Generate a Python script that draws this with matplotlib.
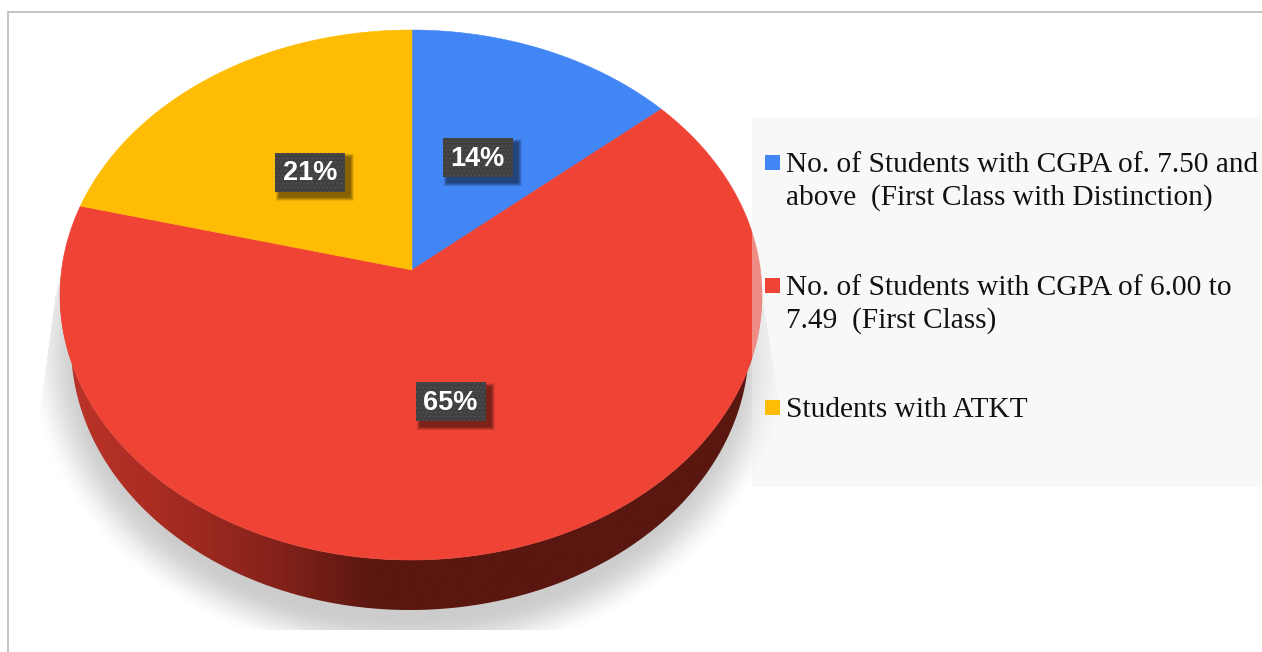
import numpy as np
import matplotlib
matplotlib.use("Agg")
import matplotlib.pyplot as plt
from matplotlib.patches import Rectangle, Polygon
from matplotlib.colors import LinearSegmentedColormap

# ---- data ----
categories = ["No. of Students with CGPA of. 7.50 and\nabove  (First Class with Distinction)",
              "No. of Students with CGPA of 6.00 to\n7.49  (First Class)",
              "Students with ATKT"]
values = [13.7, 65.3, 21.0]
labels = ["14%", "65%", "21%"]
colors = ["#4285F4", "#EF4435", "#FFBC05"]

W, H = 1262, 652
fig = plt.figure(figsize=(W / 100, H / 100), dpi=100)
ax = fig.add_axes([0, 0, 1, 1])
ax.set_xlim(0, W)
ax.set_ylim(H, 0)
ax.axis("off")

# geometry of the tilted pie (pixels)
APEX = np.array([412.0, 270.0])
CX, CY, RX, RY = 411.0, 295.0, 351.0, 265.0
DIRX, DIRY = 349.0, 262.0
TILT = 0.0926
BCX, BCY, BRX, BRY = 410.0, 345.0, 339.0, 265.0


def rim(theta):
    """Point on the top ellipse along the perspective ray for clockwise angle theta."""
    dx, dy = DIRX * np.sin(theta), -DIRY * np.cos(theta)
    ox, oy = (APEX[0] - CX) / RX, (APEX[1] - CY) / RY
    px, py = dx / RX, dy / RY
    a = px**2 + py**2
    b = 2 * (ox * px + oy * py)
    c = ox**2 + oy**2 - 1
    t = (-b + np.sqrt(b**2 - 4 * a * c)) / (2 * a)
    return APEX + t * np.array([dx, dy])


# ---- shadow ----
yy, xx = np.mgrid[0:H, 0:W]
d = np.sqrt(((xx - 408) / 385.0) ** 2 + ((yy - 350) / 315.0) ** 2)
sh = np.clip((1.0 - d) / 0.15, 0, 1)
sh = sh * sh * (3 - 2 * sh)
left = np.interp(yy, [205, 295, 460], [80, 55, 33])
right = np.interp(yy, [205, 400, 470], [748, 778, 782])
sh[(yy > 629) | (yy < 205) | (xx < left) | (xx > right)] = 0
rgba = np.zeros((H, W, 4))
rgba[..., 3] = sh * 0.2
ax.imshow(rgba, extent=(0, W, H, 0), zorder=1, aspect="auto", interpolation="bilinear")
ax.set_xlim(0, W)
ax.set_ylim(H, 0)

# ---- wedge angles from the values ----
fr = np.cumsum([0] + values) / np.sum(values) * 2 * np.pi
arcs = [np.array([rim(t) for t in np.linspace(fr[i], fr[i + 1], 240)]) for i in range(len(values))]

# ---- side wall of the red slice ----
t = np.linspace(np.deg2rad(-3), np.deg2rad(183), 300)
lower = np.c_[BCX + BRX * np.cos(t), BCY + BRY * np.sin(t)]
upper = np.c_[CX + RX * np.cos(t), CY + RY * np.sin(t)]
side = np.vstack([lower, upper[::-1]])
cmap = LinearSegmentedColormap.from_list(
    "side", [(0, "#BC3429"), (0.12, "#AC2D23"), (0.3, "#86231B"), (0.44, "#5A1710"), (1, "#5A1710")])
im = ax.imshow(np.linspace(0, 1, 512)[None, :], extent=(60, 770, 660, 240), cmap=cmap,
               aspect="auto", zorder=2)
im.set_clip_path(Polygon(side, transform=ax.transData))
ax.set_xlim(0, W)
ax.set_ylim(H, 0)

# ---- top face ----
for arc, col in zip(arcs, colors):
    ax.add_patch(Polygon(np.vstack([APEX, arc]), closed=True, facecolor=col, edgecolor=col,
                         linewidth=0.4, zorder=3))

# ---- legend panel (translucent) ----
ax.add_patch(Rectangle((752, 117), W - 752, 370, facecolor="#F0F0F0", alpha=0.42, edgecolor="none", zorder=4))

# ---- data labels ----
mids = (fr[:-1] + fr[1:]) / 2
R_LAB = 0.49
nudge_x = [-3, -2, -1]
nudge_y = [0, 1, 0]
for m, lab, nx, ny in zip(mids, labels, nudge_x, nudge_y):
    w = 1 + TILT * R_LAB * np.cos(m)
    x = APEX[0] + R_LAB * DIRX * np.sin(m) / w + nx
    y = APEX[1] - R_LAB * DIRY * np.cos(m) / w + ny
    bw, bh = 70, 39
    for k in range(8):
        grow = 8 - k
        ax.add_patch(Rectangle((x - bw / 2 + 5 - grow / 2, y - bh / 2 + 5 - grow / 2), bw + grow, bh + grow,
                               facecolor="black", alpha=0.075, edgecolor="none", zorder=5))
    ax.add_patch(Rectangle((x - bw / 2, y - bh / 2), bw, bh, facecolor="#404040", edgecolor="#4E4E4E",
                           linewidth=0, hatch="....", zorder=6))
    ax.text(x, y + 1, lab, color="white", fontsize=19.5, fontweight="bold", family="Liberation Sans",
            ha="center", va="center", zorder=7)

# ---- legend entries ----
legend_y = [163, 286, 408]
line_gap = [33, 33, 0]
for cat, col, y, g in zip(categories, colors, legend_y, line_gap):
    ax.add_patch(Rectangle((765, y - 8), 15, 15, facecolor=col, edgecolor="none", zorder=6))
    for i, line in enumerate(cat.split("\n")):
        ax.text(786, y + 2 + i * g, line, fontsize=21.2, family="Liberation Serif", color="#111111",
                ha="left", va="center", zorder=7)

# ---- frame ----
ax.plot([8, 8, W], [H, 12, 12], color="#BFBFBF", linewidth=1.3, zorder=8, solid_joinstyle="miter")

fig.savefig("out.png", dpi=100)
